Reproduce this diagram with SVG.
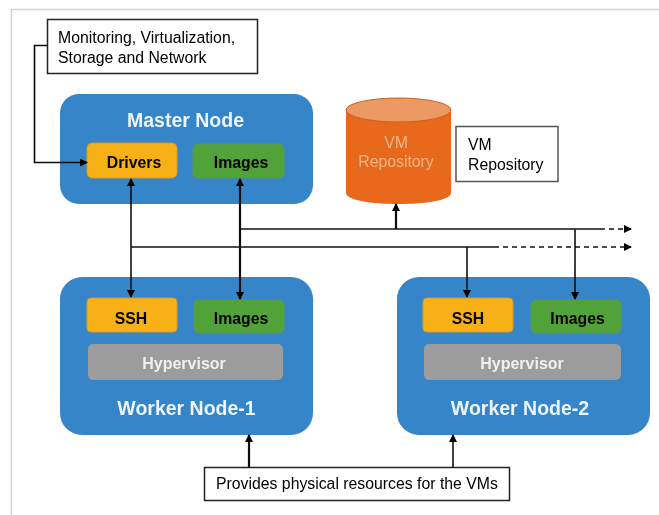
<svg xmlns="http://www.w3.org/2000/svg" width="659" height="515" viewBox="0 0 659 515">
<style>
text{font-family:"Liberation Sans",Arial,sans-serif;text-anchor:middle}
.node{fill:#3585c8}
.title{fill:#eef5fa;font-size:19.5px;font-weight:bold}
.y{fill:#f7b015;stroke:#d09a30;stroke-width:1}
.g{fill:#51a238;stroke:#5f9a50;stroke-width:1}
.h{fill:#9c9c9c}
.in{fill:#000;font-size:15.8px;font-weight:bold}
.hv{fill:#f0f0f0;font-size:16px;font-weight:bold}
.note{fill:#fff;stroke:#222;stroke-width:1.5}
.nt{fill:#000;font-size:15.8px;text-anchor:start}
.rt{fill:#f2b48a;font-size:15.8px}
.c{fill:none;stroke:#111;stroke-width:1.6}
.d{stroke-dasharray:5 4}
</style>
<defs>
<marker id="a" markerUnits="userSpaceOnUse" markerWidth="9" markerHeight="9" refX="7" refY="4" orient="auto-start-reverse"><path d="M0 0L8 4L0 8z" fill="#000"/></marker>
<filter id="b" filterUnits="userSpaceOnUse" x="0" y="0" width="659" height="515"><feGaussianBlur stdDeviation="0.5"/></filter>
</defs>
<rect width="659" height="515" fill="#fff"/>
<g filter="url(#b)">
<path d="M11.500 515V9.500H659" fill="none" stroke="#d4d4d4" stroke-width="1.500"/>
<g id="note-monitoring"><rect class="note" x="47.500" y="19.500" width="210" height="54"/><text class="nt" x="58" y="42.500">Monitoring, Virtualization,</text><text class="nt" x="58" y="62.500">Storage and Network</text></g>
<g id="master-node"><rect class="node" x="60" y="94" width="253" height="110" rx="19"/><text class="title" x="185.500" y="127">Master Node</text>
<rect class="y" x="87" y="143" width="90" height="35" rx="5"/><text class="in" x="134" y="168">Drivers</text>
<rect class="g" x="193" y="144" width="91" height="34" rx="5"/><text class="in" x="241" y="168">Images</text></g>
<g id="vm-repository"><path d="M346 110V193C346 207.700 451 207.700 451 193V110Z" fill="#e8691c"/><ellipse cx="398.500" cy="110" rx="52.500" ry="12" fill="#ea9a62" stroke="#c8621f"/><text class="rt" x="396" y="148">VM</text><text class="rt" x="396" y="167">Repository</text></g>
<g id="note-vm"><rect class="note" x="456" y="126.500" width="102" height="55" style="stroke:#555"/><text class="nt" x="468" y="150">VM</text><text class="nt" x="468" y="170">Repository</text></g>
<g id="worker-node-1"><rect class="node" x="60" y="277" width="253" height="158" rx="22"/>
<rect class="y" x="87" y="298" width="90" height="34" rx="4"/><text class="in" x="131" y="324">SSH</text>
<rect class="g" x="194" y="300" width="90" height="33" rx="5"/><text class="in" x="241" y="324">Images</text>
<rect class="h" x="88" y="344" width="195" height="36" rx="5"/><text class="hv" x="184" y="369">Hypervisor</text>
<text class="title" x="186.500" y="415">Worker Node-1</text></g>
<g id="worker-node-2"><rect class="node" x="397" y="277" width="253" height="158" rx="22"/>
<rect class="y" x="423" y="298" width="90" height="34" rx="4"/><text class="in" x="468" y="324">SSH</text>
<rect class="g" x="531" y="300" width="90" height="33" rx="5"/><text class="in" x="577.500" y="324">Images</text>
<rect class="h" x="424" y="344" width="197" height="36" rx="5"/><text class="hv" x="522" y="369">Hypervisor</text>
<text class="title" x="520" y="415">Worker Node-2</text></g>
<g id="note-physical"><rect class="note" x="204.500" y="467.500" width="305" height="33"/><text class="nt" x="216" y="489">Provides physical resources for the VMs</text></g>
<g id="connectors">
<path class="c" d="M47 45.500H34.500V162.500H87" marker-end="url(#a)"/>
<path class="c" d="M131 179V297" marker-start="url(#a)" marker-end="url(#a)"/>
<path class="c" d="M240 179V299" style="stroke-width:2.200" marker-start="url(#a)" marker-end="url(#a)"/>
<path class="c" d="M240 229H600"/>
<path class="c d" d="M600 229H631" marker-end="url(#a)"/>
<path class="c" d="M131 247H494"/>
<path class="c d" d="M494 247H631" marker-end="url(#a)"/>
<path class="c" d="M396 229V204" style="stroke-width:2.200" marker-end="url(#a)"/>
<path class="c" d="M467 247V297" marker-end="url(#a)"/>
<path class="c" d="M575 229V299" marker-end="url(#a)"/>
<path class="c" d="M249 467V435" style="stroke-width:2.200" marker-end="url(#a)"/>
<path class="c" d="M453 467V435" marker-end="url(#a)"/>
</g>
</g>
</svg>
